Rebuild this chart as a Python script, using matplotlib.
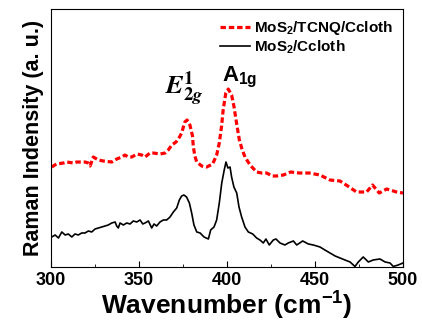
import matplotlib
matplotlib.use('Agg')
import matplotlib.pyplot as plt
from matplotlib.ticker import MultipleLocator

plt.rcParams['font.family'] = 'Liberation Sans'
plt.rcParams['font.weight'] = 'bold'
plt.rcParams['mathtext.fontset'] = 'custom'
plt.rcParams['mathtext.rm'] = 'Liberation Sans:bold'
plt.rcParams['mathtext.bf'] = 'Liberation Sans:bold'
plt.rcParams['mathtext.default'] = 'bf'

# MoS2/TCNQ/Ccloth (red dashed)
wn_tcnq = [300.4, 303, 307, 309, 312.7, 314.6, 319.3, 321.2, 322.2, 324, 326.9, 329.7,
           334.5, 337.3, 340.2, 342, 343.9, 345.8, 349, 351.5, 353.4, 356.2, 358.1,
           361.9, 364.8, 366.6, 368.6, 371, 373, 374.2, 376, 377.3, 378.9, 380.4,
           380.8, 381.7, 382.8, 385.6, 388.4, 391.8, 394.1, 395.6, 396.9, 397.8,
           399.3, 400.7, 402.6, 403.9, 405.4, 407, 408.5, 410.2, 413.1, 416.8, 419.7,
           422.5, 425.7, 428, 432, 436.2, 441.1, 446.7, 452.8, 458.5, 464.2, 469.4,
           473.6, 479.3, 482.7, 486.5, 490.7, 496.4, 500]
int_tcnq = [100, 103, 104, 105, 104, 105, 105, 104, 101, 110, 107, 106,
            105, 108, 110, 112, 110, 110, 113, 112, 110, 114, 114,
            113, 114, 117, 122, 125, 130, 134, 145, 147, 142, 131,
            121, 111, 105, 101, 100, 103, 112, 124, 141, 157,
            174, 178, 172, 161, 144, 127, 118, 110, 102, 95, 94,
            94, 91, 91, 92, 95, 94, 94, 92, 87, 86, 80,
            75, 75, 82, 74, 78, 75, 74]

# MoS2/Ccloth (black solid)
wn_mos2 = [300.4, 302.3, 304.2, 306.1, 308, 309.8, 311.8, 313.6, 315.5, 317.4, 319.3,
           321.2, 323.1, 325, 326.9, 328.8, 330.7, 332.5, 334.5, 336.4, 337.3, 338.2,
           339.2, 341.1, 343, 344.9, 346.7, 348.7, 350.6, 352.1, 353.4, 355.3, 357.2,
           358.5, 360, 361.9, 363.8, 365.7, 367.6, 369.5, 371.4, 372.9, 374.2, 375.5,
           377, 378.6, 379.9, 381.2, 382.8, 384.7, 386.9, 389.4, 390.7, 392.6, 394.1,
           395.6, 397, 398.4, 399.4, 400.5, 401.7, 402.6, 403.9, 405.5, 406.8, 408.3,
           410.2, 412.1, 414.6, 416.8, 418.7, 420.6, 422.1, 424, 426.3, 427.8, 430.1,
           432.9, 434.8, 437.7, 439.6, 443, 446.2, 449, 452.8, 455.6, 458.5, 461.4,
           464.2, 467, 469.9, 472.7, 474.6, 477.4, 480.3, 483.1, 486.9, 489.8, 492.6,
           494.5, 497.3, 500]
int_mos2 = [30, 32, 29, 35, 32, 33, 30, 33, 32, 34, 34,
            36, 35, 38, 39, 40, 41, 42, 44, 45, 41, 39,
            44, 42, 44, 43, 46, 45, 47, 43, 44, 46, 39,
            43, 41, 45, 47, 47, 50, 55, 59, 67, 71, 72,
            70, 64, 54, 42, 35, 34, 30, 28, 37, 40, 47,
            64, 84, 97, 105, 99, 100, 90, 80, 74, 60, 50,
            40, 35, 33, 29, 27, 24, 28, 22, 27, 28, 24,
            22, 24, 26, 22, 26, 23, 22, 20, 17, 14, 11,
            9, 7, 5, 0.5, 5, 10, 5, 7, 8, 5, 4,
            0.5, 2, 4]

fig = plt.figure(figsize=(4.22, 3.24), dpi=100)
ax = fig.add_axes([0.121, 0.176, 0.834, 0.796])

ax.plot(wn_tcnq, int_tcnq, color='red', linestyle=(0, (1.7, 0.9)), linewidth=2.3,
        label='MoS$_2$/TCNQ/Ccloth')
ax.plot(wn_mos2, int_mos2, color='black', linewidth=1.2, label='MoS$_2$/Ccloth')

ax.set_xlim(300, 500)
ax.set_ylim(0, 258)
ax.xaxis.set_major_locator(MultipleLocator(50))
ax.xaxis.set_minor_locator(MultipleLocator(25))
ax.tick_params(axis='x', which='both', direction='in', labelsize=13)
ax.tick_params(axis='x', which='major', length=4)
ax.tick_params(axis='x', which='minor', length=2)
ax.set_yticks([])

ax.set_xlabel('Wavenumber (cm$^{-1}$)', fontsize=19, fontweight='bold', labelpad=1)
ax.set_ylabel('Raman Indensity (a. u.)', fontsize=15.5, fontweight='bold', labelpad=5)

ax.text(376, 158, r'$\mathbfit{E}^{\mathbf{1}}_{\mathbf{2}\mathbfit{g}}$', fontsize=19,
        math_fontfamily='stix', ha='center', va='bottom')
ax.text(407, 177, r'A$_{\mathbf{1g}}$', fontsize=16, ha='center', va='bottom')

ax.legend(loc='upper right', frameon=False, fontsize=11, handlelength=2.0,
          handletextpad=0.26, labelspacing=0.1, borderaxespad=0.25)

fig.savefig('out.png', dpi=100)
